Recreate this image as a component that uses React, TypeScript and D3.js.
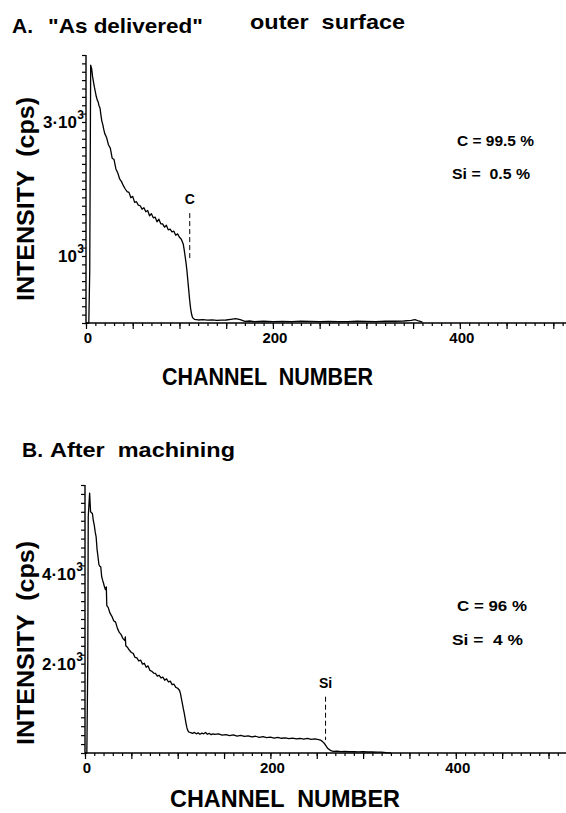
import { useEffect, useRef } from "react";
import * as d3 from "d3";

// RBS spectra, [channel, counts per second]
const profileA: [number, number][] = [
  [0, 0], [3, 0], [4, 780], [5, 3850], [6, 3800], [7, 3680], [8, 3600], [9, 3520], [10, 3450],
  [11, 3380], [12, 3330], [13, 3300], [14, 3240], [15, 3210], [16, 3100], [17, 3010], [18, 2960],
  [19, 2890], [20, 2830], [22, 2770], [24, 2660], [26, 2610], [28, 2460], [30, 2440], [32, 2300],
  [34, 2240], [36, 2150], [38, 2110], [40, 2050], [42, 2000], [44, 1960], [46, 1950], [48, 1870],
  [50, 1890], [52, 1800], [54, 1810], [56, 1760], [58, 1750], [60, 1700], [62, 1720], [64, 1660],
  [66, 1680], [68, 1600], [70, 1630], [72, 1570], [74, 1580], [76, 1510], [78, 1550], [80, 1480],
  [82, 1480], [84, 1430], [86, 1460], [88, 1390], [90, 1400], [92, 1360], [94, 1370], [96, 1310],
  [98, 1330], [100, 1280], [102, 1250], [104, 1180], [105, 1100], [106, 1000], [107, 900],
  [108, 780], [109, 630], [110, 480], [111, 330], [112, 210], [113, 130], [114, 80], [116, 55],
  [120, 45], [125, 50], [130, 42], [135, 46], [140, 40], [145, 44], [150, 45], [155, 55], [160, 65],
  [165, 50], [170, 25], [175, 30], [180, 22], [190, 26], [200, 20], [210, 25], [220, 22], [230, 27],
  [240, 25], [250, 22], [260, 24], [270, 20], [280, 22], [290, 26], [300, 25], [310, 22], [320, 28],
  [330, 26], [340, 30], [348, 40], [352, 50], [356, 30], [360, 12],
];

const profileB: [number, number][] = [
  [0, 0], [2, 0], [3, 2040], [3.5, 5290], [5, 5820], [6, 5400], [7, 5380], [8, 5360], [9, 5200],
  [10, 5100], [11, 4950], [12, 4840], [13, 4560], [14, 4400], [15, 4220], [16, 4180], [17, 4170],
  [18, 3950], [19, 3870], [20, 3800], [21, 3720], [22, 3660], [23, 3720], [23.5, 3300], [25, 3260],
  [27, 3130], [29, 3060], [31, 2960], [33, 2930], [35, 2790], [37, 2700], [39, 2650], [41, 2560],
  [43, 2520], [43.5, 2600], [44, 2400], [46, 2360], [48, 2300], [50, 2250], [52, 2230], [54, 2140],
  [56, 2130], [58, 2060], [60, 2080], [62, 1990], [64, 2010], [66, 1920], [68, 1950], [70, 1850],
  [72, 1830], [74, 1790], [76, 1780], [78, 1720], [80, 1740], [82, 1680], [84, 1700], [86, 1630],
  [88, 1660], [90, 1590], [92, 1610], [94, 1530], [96, 1540], [98, 1470], [100, 1450], [102, 1400],
  [103, 1330], [104, 1220], [105, 1110], [106, 1000], [107, 900], [108, 780], [109, 660], [110, 560],
  [111, 500], [112, 470], [114, 455], [116, 440], [118, 460], [120, 430], [122, 450], [124, 420],
  [126, 445], [128, 430], [130, 460], [132, 420], [134, 440], [136, 410], [138, 430], [140, 415],
  [144, 430], [148, 400], [152, 410], [156, 390], [160, 405], [164, 380], [168, 395], [172, 370],
  [176, 385], [180, 360], [184, 375], [188, 350], [192, 365], [196, 345], [200, 355], [204, 335],
  [208, 350], [212, 330], [216, 340], [220, 320], [224, 335], [228, 315], [232, 325], [236, 310],
  [240, 330], [244, 305], [248, 315], [252, 300], [254, 290], [256, 260], [258, 220], [260, 160],
  [262, 100], [264, 70], [266, 45], [268, 35], [272, 40], [276, 30], [280, 38], [285, 28], [290, 32],
  [295, 25], [300, 30], [305, 22], [310, 25], [315, 20], [320, 18], [325, 10], [330, 5],
];

const xLabels = [0, 200, 400];
const yLabelsA = [{ v: 1000, m: "10" }, { v: 3000, m: "3·10" }];
const yLabelsB = [{ v: 2000, m: "2·10" }, { v: 4000, m: "4·10" }];
const compA = ["C = 99.5 %", "Si =  0.5 %"];
const compB = ["C = 96 %", "Si =  4 %"];
// edge marker: channel, dash from/to (cps), label
const markerA = { ch: 111, lo: 940, hi: 1640, label: "C" };
const markerB = { ch: 259.5, lo: 290, hi: 1260, label: "Si" };

const FONT = "'Liberation Sans', Arial, Helvetica, sans-serif";

function txt(g, s, x, y, size, opts: any = {}) {
  const t = g.append("text")
    .attr("x", x).attr("y", y)
    .attr("font-family", FONT)
    .attr("font-weight", "bold")
    .attr("font-size", size)
    .attr("text-anchor", opts.anchor || "start")
    .attr("xml:space", "preserve")
    .style("white-space", "pre")
    .attr("fill", "#000")
    .text(s);
  if (opts.len) t.attr("textLength", opts.len).attr("lengthAdjust", "spacingAndGlyphs");
  if (opts.transform) t.attr("transform", opts.transform);
  return t;
}

function panel(svg, p) {
  const x = d3.scaleLinear().domain([0, 500]).range(p.xRange);
  const y = d3.scaleLinear().domain([0, p.yMax]).range(p.yRange);
  const g = svg.append("g");
  const base = p.yRange[0];
  const x0 = p.xRange[0];

  // x ticks
  g.append("g").attr("transform", `translate(0,${base})`)
    .call(d3.axisBottom(x).tickValues(d3.range(0, 515, 10)).tickSize(3).tickFormat(() => ""))
    .call(a => a.select(".domain").remove());
  g.append("g").attr("transform", `translate(0,${base})`)
    .call(d3.axisBottom(x).tickValues(d3.range(0, 505, 50)).tickSize(6).tickFormat(() => ""))
    .call(a => a.select(".domain").remove());
  // y ticks
  g.append("g").attr("transform", `translate(${x0},0)`)
    .call(d3.axisLeft(y).tickValues(d3.range(0, p.yMax + 1, p.yStep)).tickSize(4).tickFormat(() => ""))
    .call(a => a.select(".domain").remove());
  g.selectAll(".tick line").attr("stroke", "#000").attr("stroke-width", 1.2);

  g.append("line").attr("x1", x0).attr("x2", 566).attr("y1", base).attr("y2", base)
    .attr("stroke", "#000").attr("stroke-width", 1.4);
  g.append("line").attr("x1", x0).attr("x2", x0).attr("y1", base).attr("y2", p.yRange[1])
    .attr("stroke", "#000").attr("stroke-width", 1.4);

  xLabels.forEach(v => txt(g, String(v), x(v) + 2, base + 20, 15, { anchor: "middle" }));
  p.yLabels.forEach(l => {
    txt(g, l.m, x0 - 9, y(l.v) + 6, 17, { anchor: "end" });
    txt(g, "3", x0 - 2, y(l.v) - 3, 12, { anchor: "end" });
  });

  // spectrum
  const line = d3.line<[number, number]>().x(d => x(d[0])).y(d => y(d[1]));
  g.append("path").attr("d", line(p.data)).attr("fill", "none")
    .attr("stroke", "#000").attr("stroke-width", 1.3).attr("stroke-linejoin", "round");

  // edge marker
  const m = p.marker;
  g.append("line").attr("x1", x(m.ch)).attr("x2", x(m.ch)).attr("y1", y(m.hi)).attr("y2", y(m.lo))
    .attr("stroke", "#000").attr("stroke-width", 1).attr("stroke-dasharray", "5,3");
  txt(g, m.label, x(m.ch), y(m.hi) - 9, 14, { anchor: "middle" });

  // composition
  txt(g, p.comp[0], p.compX[0], p.compY[0], 15, { len: p.compLen[0] });
  txt(g, p.comp[1], p.compX[1], p.compY[1], 15, { len: p.compLen[1] });

  // axis titles
  txt(g, "INTENSITY  (cps)", 0, 0, 24, { anchor: "middle", len: 204, transform: `translate(34,${p.yTitleY}) rotate(-90)` });
  txt(g, "CHANNEL  NUMBER", p.xTitle[0], p.xTitle[1], 23, { len: p.xTitle[2] });
}

export default function App() {
  const ref = useRef<SVGSVGElement>(null);

  useEffect(() => {
    const svg = d3.select(ref.current);
    svg.selectAll("*").remove();

    // titles
    txt(svg, "A.", 12, 33, 21);
    txt(svg, "\"As delivered\"", 48, 33, 21, { len: 155 });
    txt(svg, "outer  surface", 250, 29, 21, { len: 155 });
    txt(svg, "B.", 22, 457, 21);
    txt(svg, "After  machining", 50, 457, 21, { len: 185 });

    panel(svg, {
      data: profileA, xRange: [86, 553.3], yRange: [323, 55], yMax: 4000, yStep: 125,
      yLabels: yLabelsA, marker: markerA, comp: compA,
      compX: [457, 452], compY: [146, 179], compLen: [77, 78],
      yTitleY: 199, xTitle: [162, 385, 211],
    });
    panel(svg, {
      data: profileB, xRange: [85, 548.5], yRange: [753, 485], yMax: 6000, yStep: 200,
      yLabels: yLabelsB, marker: markerB, comp: compB,
      compX: [457, 452], compY: [611, 645], compLen: [70, 71],
      yTitleY: 643, xTitle: [170, 807, 230],
    });
  }, []);

  return (
    <svg ref={ref} width={566} height={813}
      style={{ position: "absolute", left: 0, top: 0, background: "#fff" }} />
  );
}
